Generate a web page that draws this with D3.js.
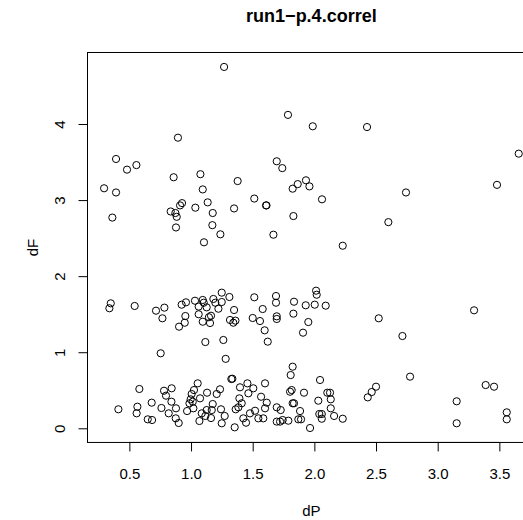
<!DOCTYPE html>
<html>
<head>
<meta charset="utf-8">
<script src="https://cdn.jsdelivr.net/npm/d3@7"></script>
<style>
  html, body { margin: 0; padding: 0; background: #fff; }
  svg { display: block; }
  text { font-family: "Liberation Sans", Arial, Helvetica, sans-serif; fill: #000; }
</style>
</head>
<body>
<script>
// dP / dF pairs for run1-p.4.correl
const dP = [
  // upper group
  1.268, 1.786, 1.987, 2.427, 3.657, 1.695, 1.740, 1.932, 1.865, 1.824,
  1.960, 3.481, 1.513, 1.608, 1.612, 2.062, 2.743, 1.830, 2.600, 1.378,
  0.894, 0.392, 0.481, 0.557, 0.859, 1.076, 0.295, 0.392, 1.095, 1.135,
  1.176, 1.349, 0.362, 0.927, 0.911, 0.835, 0.873, 0.884, 1.035, 0.878,
  1.173, 1.238, 1.105, 1.668, 2.230,
  // middle group
  0.349, 0.338, 0.543, 0.716, 0.784, 0.768, 0.903, 0.954, 0.949, 0.924,
  0.959, 1.032, 1.062, 1.095, 1.103, 1.127, 1.062, 1.095, 1.154, 1.162,
  1.145, 1.181, 1.197, 1.222, 1.249, 1.249, 1.311, 1.349, 1.316, 1.343,
  1.360, 1.116, 1.262, 0.754, 1.281, 1.513, 1.689, 1.689, 1.835, 1.930,
  2.003, 2.014, 2.019, 2.092, 1.581, 1.500, 1.559, 1.695, 1.695, 1.830,
  1.951, 1.597, 1.908, 1.622, 2.522, 2.714, 3.295, 1.824, 1.808,
  // lower group
  0.411, 0.581, 0.565, 0.559, 0.649, 0.684, 0.681, 0.760, 0.781, 0.797,
  0.843, 0.841, 0.819, 0.878, 0.876, 0.900, 0.968, 0.987, 0.997, 1.005,
  1.014, 1.024, 1.054, 1.019, 1.073, 1.130, 1.068, 1.087, 1.116, 1.127,
  1.176, 1.162, 1.168, 1.208, 1.235, 1.243, 1.273, 1.249, 1.354, 1.362,
  1.327, 1.335, 1.384, 1.392, 1.397, 1.411, 1.424, 1.446, 1.457, 1.465,
  1.478, 1.505, 1.519, 1.546, 1.568, 1.586, 1.600, 1.600, 1.614, 1.695,
  1.695, 1.727, 1.722, 1.743, 1.789, 1.803, 1.816, 1.824, 1.835, 1.884,
  1.870, 1.892, 1.916, 1.965, 2.032, 2.046, 2.105, 2.127, 2.133, 2.133,
  2.040, 2.060, 2.060, 2.160, 2.230, 2.433, 2.465, 2.500, 2.776, 3.154,
  3.154, 3.389, 3.457, 3.560, 3.560
];
const dF = [
  // upper group
  4.750, 4.120, 3.970, 3.960, 3.610, 3.510, 3.420, 3.260, 3.210, 3.150,
  3.180, 3.200, 3.020, 2.930, 2.930, 3.010, 3.100, 2.790, 2.710, 3.250,
  3.820, 3.540, 3.400, 3.460, 3.300, 3.340, 3.155, 3.100, 3.140, 2.970,
  2.830, 2.890, 2.770, 2.960, 2.930, 2.850, 2.830, 2.780, 2.900, 2.640,
  2.670, 2.550, 2.445, 2.545, 2.400,
  // middle group
  1.643, 1.578, 1.608, 1.546, 1.586, 1.446, 1.336, 1.476, 1.388, 1.625,
  1.656, 1.677, 1.600, 1.687, 1.651, 1.590, 1.499, 1.401, 1.384, 1.480,
  1.460, 1.700, 1.651, 1.572, 1.783, 1.660, 1.726, 1.555, 1.424, 1.388,
  1.415, 1.134, 1.161, 0.986, 0.913, 1.722, 1.739, 1.651, 1.664, 1.617,
  1.625, 1.809, 1.756, 1.612, 1.568, 1.450, 1.410, 1.472, 1.437, 1.507,
  1.397, 1.288, 1.257, 1.139, 1.446, 1.213, 1.551, 0.810, 0.700,
  // lower group
  0.250, 0.517, 0.284, 0.197, 0.118, 0.109, 0.337, 0.267, 0.494, 0.429,
  0.526, 0.350, 0.197, 0.263, 0.131, 0.070, 0.227, 0.329, 0.381, 0.451,
  0.350, 0.503, 0.591, 0.263, 0.394, 0.468, 0.096, 0.197, 0.162, 0.240,
  0.319, 0.135, 0.240, 0.451, 0.513, 0.250, 0.162, 0.066, 0.013, 0.250,
  0.648, 0.652, 0.276, 0.394, 0.539, 0.329, 0.131, 0.074, 0.591, 0.460,
  0.197, 0.526, 0.231, 0.131, 0.415, 0.131, 0.591, 0.263, 0.337, 0.088,
  0.276, 0.240, 0.088, 0.109, 0.100, 0.481, 0.503, 0.329, 0.329, 0.227,
  0.118, 0.118, 0.468, 0.004, 0.363, 0.635, 0.468, 0.468, 0.381, 0.263,
  0.188, 0.188, 0.126, 0.162, 0.126, 0.407, 0.477, 0.547, 0.679, 0.355,
  0.066, 0.569, 0.547, 0.210, 0.118
];

const xTicks = [0.5, 1.0, 1.5, 2.0, 2.5, 3.0, 3.5];
const yTicks = [0, 1, 2, 3, 4];
const xTickLabels = ["0.5", "1.0", "1.5", "2.0", "2.5", "3.0", "3.5"];
const yTickLabels = ["0", "1", "2", "3", "4"];

const title = "run1\u2212p.4.correl";
const xTitle = "dP";
const yTitle = "dF";

const W = 523, H = 520;
// plotting region (the right edge runs past the page width)
const plot = { left: 87.5, right: 535.3, top: 52.5, bottom: 442.45 };

// axis limits: data range widened by 4% on each side
function padded(vals) {
  const [lo, hi] = d3.extent(vals);
  const pad = (hi - lo) * 0.04;
  return [lo - pad, hi + pad];
}

const x = d3.scaleLinear().domain(padded(dP)).range([plot.left, plot.right]);
const y = d3.scaleLinear().domain(padded(dF)).range([plot.bottom, plot.top]);

const svg = d3.select("body").append("svg")
  .attr("width", W).attr("height", H);

// points
svg.append("g")
  .selectAll("circle")
  .data(d3.range(dP.length))
  .join("circle")
  .attr("cx", i => x(dP[i]))
  .attr("cy", i => y(dF[i]))
  .attr("r", 3.6)
  .attr("fill", "none")
  .attr("stroke", "#000")
  .attr("stroke-width", 1);

// frame
svg.append("rect")
  .attr("x", plot.left).attr("y", plot.top)
  .attr("width", plot.right - plot.left)
  .attr("height", plot.bottom - plot.top)
  .attr("fill", "none").attr("stroke", "#000").attr("stroke-width", 1);

// x axis
const xAxis = d3.axisBottom(x)
  .tickValues(xTicks)
  .tickSize(9)
  .tickPadding(17)
  .tickFormat((d, i) => xTickLabels[i]);
const gx = svg.append("g")
  .attr("transform", `translate(0,${plot.bottom})`)
  .call(xAxis);
gx.select(".domain")
  .attr("d", `M${x(xTicks[0])},0H${x(xTicks[xTicks.length - 1])}`)
  .attr("stroke", "#000");
gx.selectAll(".tick line").attr("stroke", "#000");
gx.selectAll(".tick text")
  .attr("font-size", 15)
  .attr("font-family", "Liberation Sans, Arial, sans-serif")
  .attr("fill", "#000");

// y axis
const yAxis = d3.axisLeft(y)
  .tickValues(yTicks)
  .tickSize(9)
  .tickFormat((d, i) => yTickLabels[i]);
const gy = svg.append("g")
  .attr("transform", `translate(${plot.left},0)`)
  .call(yAxis);
gy.select(".domain")
  .attr("d", `M0,${y(yTicks[0])}V${y(yTicks[yTicks.length - 1])}`)
  .attr("stroke", "#000");
gy.selectAll(".tick line").attr("stroke", "#000");
gy.selectAll(".tick text")
  .attr("x", null).attr("dy", null)
  .attr("transform", "translate(-22.5,0) rotate(-90)")
  .attr("text-anchor", "middle")
  .attr("font-size", 15)
  .attr("font-family", "Liberation Sans, Arial, sans-serif")
  .attr("fill", "#000");

const cx = (plot.left + plot.right) / 2;
const cy = (plot.top + plot.bottom) / 2;

// titles
svg.append("text")
  .attr("x", cx).attr("y", 22)
  .attr("text-anchor", "middle")
  .attr("font-size", 18).attr("font-weight", "bold")
  .text(title);

svg.append("text")
  .attr("x", cx).attr("y", 516)
  .attr("text-anchor", "middle")
  .attr("font-size", 15)
  .text(xTitle);

svg.append("text")
  .attr("transform", `translate(38,${cy}) rotate(-90)`)
  .attr("text-anchor", "middle")
  .attr("font-size", 15)
  .text(yTitle);
</script>
</body>
</html>
